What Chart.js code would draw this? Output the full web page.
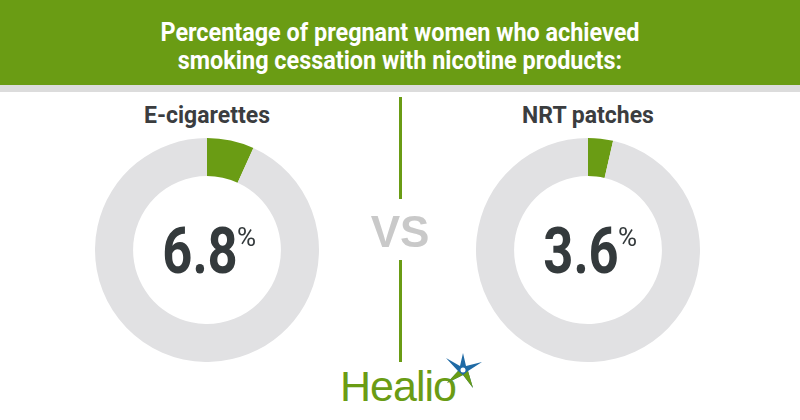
<!DOCTYPE html>
<html>
<head>
<meta charset="utf-8">
<script src="https://cdn.jsdelivr.net/npm/chart.js@4/dist/chart.umd.min.js"></script>
<style>
  html,body{margin:0;padding:0;background:#fff;}
  #wrap{position:relative;width:800px;height:420px;overflow:hidden;background:#fff;font-family:Roboto,"Liberation Sans",sans-serif;}
  #header{position:absolute;left:0;top:0;width:800px;height:85px;background:#6a9c14;}
  #stripe{position:absolute;left:0;top:85px;width:800px;height:7px;background:#dcdcdc;}
  .title{position:absolute;left:0;width:800px;text-align:center;color:#fff;font-weight:700;font-size:26px;line-height:26px;transform:scaleX(0.9);transform-origin:400px 0;white-space:nowrap;}
  .label{position:absolute;width:300px;text-align:center;color:#3b3d3f;font-weight:700;font-size:23px;line-height:23px;white-space:nowrap;}
  .chartbox{position:absolute;width:224px;height:224px;}
  .pct{position:absolute;width:300px;text-align:center;color:#343a3c;font-weight:700;white-space:nowrap;}
  .pct .num{font-size:64px;line-height:64px;display:inline-block;transform:scaleX(0.82);margin-right:-9px;}
  .pct .sym{font-size:26px;font-weight:400;vertical-align:top;position:relative;top:2px;}
  .vline{position:absolute;left:399px;width:3px;background:#6a9c14;}
  #vs{position:absolute;left:350px;width:100px;top:210px;text-align:center;color:#c9c9c9;font-family:"Liberation Sans",Arial,sans-serif;font-weight:700;font-size:44px;line-height:44px;}
  #healio{position:absolute;left:340px;top:365px;color:#6a9c14;font-family:"Liberation Sans",Arial,sans-serif;font-size:43px;line-height:43px;letter-spacing:-1px;}
  #star{position:absolute;left:442px;top:350px;}
</style>
</head>
<body>
<div id="wrap">
  <div id="header"></div>
  <div id="stripe"></div>
  <div class="title" style="top:19px;">Percentage of pregnant women who achieved</div>
  <div class="title" style="top:47px;">smoking cessation with nicotine products:</div>

  <div class="label" id="lab0" style="left:57px;top:104px;"></div>
  <div class="label" id="lab1" style="left:438px;top:104px;"></div>

  <div class="chartbox" style="left:95px;top:138px;"><canvas id="c0" width="224" height="224"></canvas></div>
  <div class="chartbox" style="left:476px;top:138px;"><canvas id="c1" width="224" height="224"></canvas></div>

  <div class="pct" id="pct0" style="left:55px;top:220px;"></div>
  <div class="pct" id="pct1" style="left:436px;top:220px;"></div>

  <div class="vline" style="top:97px;height:102px;"></div>
  <div id="vs">VS</div>
  <div class="vline" style="top:260px;height:102px;"></div>

  <div id="healio">Healio</div>
  <svg id="star" width="42" height="42" viewBox="0 0 42 42">
    <polygon points="21,3 24,16 40,12 26,21 31,38 21,25 5,33 16,21 4,8 18,16" fill="#1f6aa5"/>
    <polygon points="21,25 31,38 26,21" fill="#6a9c14"/>
    <polygon points="16,21 5,33 21,25" fill="#6a9c14"/>
    <circle cx="21" cy="20" r="2.5" fill="#ffffff"/>
  </svg>
</div>
<script>
const categories = ["E-cigarettes", "NRT patches"];
const cessationPct = [6.8, 3.6];
const colors = { achieved: "#6a9c14", rest: "#e1e1e3" };

categories.forEach((name, i) => {
  document.getElementById("lab" + i).textContent = name;
  const p = document.getElementById("pct" + i);
  p.innerHTML = '<span class="num"></span><span class="sym">%</span>';
  p.querySelector(".num").textContent = cessationPct[i].toFixed(1);
  new Chart(document.getElementById("c" + i), {
    type: "doughnut",
    data: {
      labels: ["Achieved cessation", "Did not"],
      datasets: [{
        data: [cessationPct[i], 100 - cessationPct[i]],
        backgroundColor: [colors.achieved, colors.rest],
        borderWidth: 0,
        hoverOffset: 0
      }]
    },
    options: {
      responsive: false,
      animation: false,
      cutout: "66%",
      rotation: 0,
      layout: { padding: 0 },
      plugins: { legend: { display: false }, tooltip: { enabled: false } },
      events: []
    }
  });
});
</script>
</body>
</html>
